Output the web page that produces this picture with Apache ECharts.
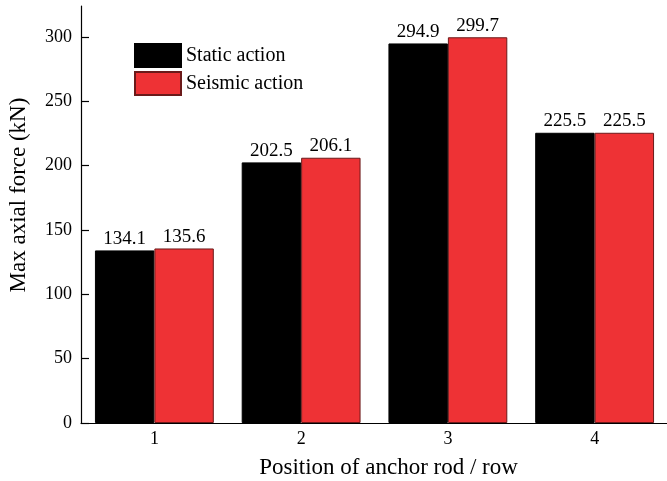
<!DOCTYPE html>
<html>
<head>
<meta charset="utf-8">
<script src="https://cdn.jsdelivr.net/npm/echarts@6/dist/echarts.min.js"></script>
<style>
  html, body { margin: 0; padding: 0; background: #fff; }
  #chart { width: 667px; height: 481px; }
</style>
</head>
<body>
<div id="chart"></div>
<script>
// Anchor rod rows and the peak axial force in each (kN)
const categories = ['1', '2', '3', '4'];
const staticForce = [134.1, 202.5, 294.9, 225.5];
const seismicForce = [135.6, 206.1, 299.7, 225.5];
const yTicks = [0, 50, 100, 150, 200, 250, 300];

const serif = '"Liberation Serif", "Times New Roman", serif';

const chart = echarts.init(document.getElementById('chart'));

const valueLabel = {
  show: true,
  position: 'top',
  distance: 2,
  color: '#000',
  fontFamily: serif,
  fontSize: 19,
  formatter: p => p.value.toFixed(1)
};

chart.setOption({
  animation: false,
  backgroundColor: '#fff',
  grid: { left: 81, right: -1, top: 6, bottom: 58, outerBoundsMode: 'none', containLabel: false },
  legend: {
    left: 134,
    top: 43,
    padding: 0,
    orient: 'vertical',
    itemWidth: 46,
    itemHeight: 23,
    itemGap: 3,
    icon: 'rect',
    textStyle: { fontFamily: serif, fontSize: 20, color: '#000' },
    data: ['Static action', 'Seismic action']
  },
  xAxis: {
    type: 'category',
    data: categories,
    name: 'Position of anchor rod / row',
    nameLocation: 'middle',
    nameGap: 33,
    nameTextStyle: { fontFamily: serif, fontSize: 23, color: '#000', padding: [0, 0, 0, 28] },
    axisLine: { lineStyle: { color: '#000', width: 1.2 } },
    axisTick: { show: false },
    axisLabel: { fontFamily: serif, fontSize: 18, color: '#000', margin: 7 }
  },
  yAxis: {
    type: 'value',
    min: 0,
    max: 324,
    interval: 50,
    name: 'Max axial force (kN)',
    nameLocation: 'middle',
    nameGap: 51,
    nameTextStyle: { fontFamily: serif, fontSize: 23, color: '#000', padding: [0, 0, 0, 39] },
    axisLine: { show: true, lineStyle: { color: '#000', width: 1.2 } },
    axisTick: { show: true, inside: true, length: 8, lineStyle: { color: '#000', width: 1.2 }, customValues: yTicks },
    axisLabel: { fontFamily: serif, fontSize: 18, color: '#000', margin: 9, customValues: yTicks },
    splitLine: { show: false }
  },
  series: [
    {
      name: 'Static action',
      type: 'bar',
      data: staticForce,
      barGap: '0%',
      barCategoryGap: '19%',
      itemStyle: { color: '#000000', borderColor: '#000000', borderWidth: 1 },
      label: valueLabel
    },
    {
      name: 'Seismic action',
      type: 'bar',
      data: seismicForce,
      itemStyle: { color: '#EE3235', borderColor: '#6b1a1a', borderWidth: 1 },
      label: valueLabel
    }
  ]
});
</script>
</body>
</html>
